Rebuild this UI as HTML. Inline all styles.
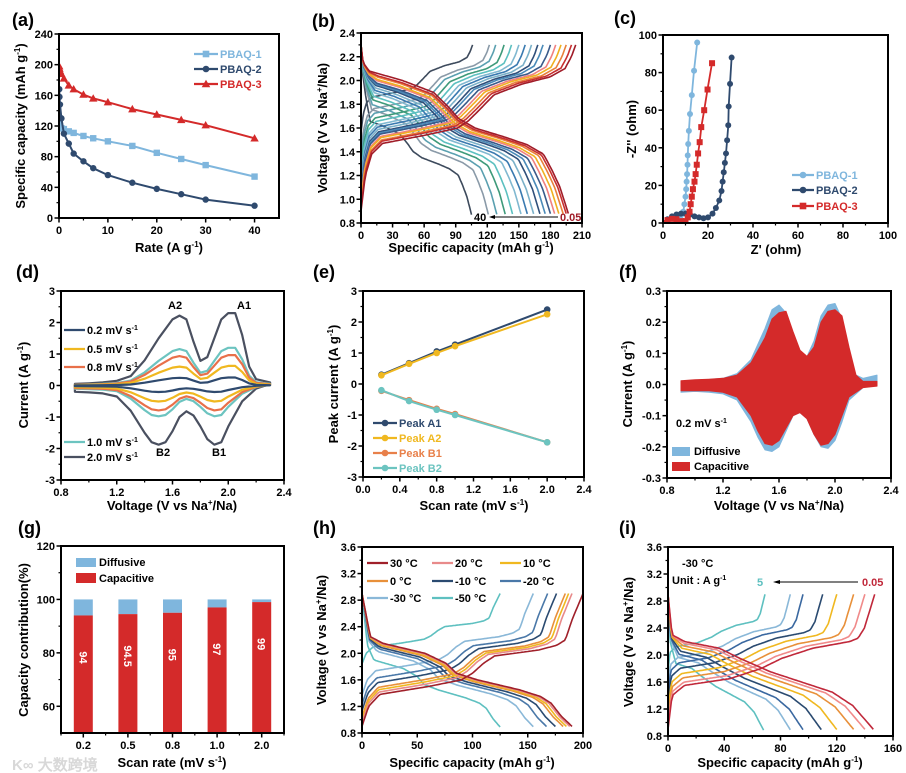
<!DOCTYPE html>
<html><head><meta charset="utf-8">
<style>
html,body{margin:0;padding:0;background:#fff;}
svg{display:block;}
text{font-family:"Liberation Sans",Arial,sans-serif;font-weight:bold;fill:#000;}
.tk{font-size:11px;}
.ti{font-size:13px;}
.pl{font-size:18px;}
.lg{font-size:11px;}
</style></head>
<body>
<svg id="fig" width="906" height="773" viewBox="0 0 906 773" xmlns="http://www.w3.org/2000/svg">
<rect x="0" y="0" width="906" height="773" fill="#fff"/>
<text class="pl" x="12" y="26">(a)</text>
<text class="pl" x="312" y="27">(b)</text>
<text class="pl" x="614" y="24">(c)</text>
<text class="pl" x="16" y="278">(d)</text>
<text class="pl" x="313" y="278">(e)</text>
<text class="pl" x="619" y="278">(f)</text>
<text class="pl" x="18" y="534">(g)</text>
<text class="pl" x="313" y="534">(h)</text>
<text class="pl" x="619" y="534">(i)</text>

<text class="ti" text-anchor="middle" x="169" y="252">Rate (A g<tspan dy="-5" font-size="8">-1</tspan><tspan dy="5">)</tspan></text>
<text class="ti" text-anchor="middle" transform="translate(25,126) rotate(-90)">Specific capacity (mAh g<tspan dy="-5" font-size="8">-1</tspan><tspan dy="5">)</tspan></text>
<text class="ti" text-anchor="middle" x="471" y="252">Specific capacity (mAh g<tspan dy="-5" font-size="8">-1</tspan><tspan dy="5">)</tspan></text>
<text class="ti" text-anchor="middle" transform="translate(327,128) rotate(-90)">Voltage (V vs Na<tspan dy="-5" font-size="8">+</tspan><tspan dy="5">/Na)</tspan></text>
<text class="ti" text-anchor="middle" x="776" y="254">Z' (ohm)</text>
<text class="ti" text-anchor="middle" transform="translate(636,129) rotate(-90)">-Z'' (ohm)</text>
<text class="ti" text-anchor="middle" x="172" y="510">Voltage (V vs Na<tspan dy="-5" font-size="8">+</tspan><tspan dy="5">/Na)</tspan></text>
<text class="ti" text-anchor="middle" transform="translate(28,385) rotate(-90)">Current (A g<tspan dy="-5" font-size="8">-1</tspan><tspan dy="5">)</tspan></text>
<text class="ti" text-anchor="middle" x="474" y="510">Scan rate (mV s<tspan dy="-5" font-size="8">-1</tspan><tspan dy="5">)</tspan></text>
<text class="ti" text-anchor="middle" transform="translate(338,384) rotate(-90)">Peak current (A g<tspan dy="-5" font-size="8">-1</tspan><tspan dy="5">)</tspan></text>
<text class="ti" text-anchor="middle" x="779" y="510">Voltage (V vs Na<tspan dy="-5" font-size="8">+</tspan><tspan dy="5">/Na)</tspan></text>
<text class="ti" text-anchor="middle" transform="translate(632,384) rotate(-90)">Current (A g<tspan dy="-5" font-size="8">-1</tspan><tspan dy="5">)</tspan></text>
<text class="ti" text-anchor="middle" x="172" y="767">Scan rate (mV s<tspan dy="-5" font-size="8">-1</tspan><tspan dy="5">)</tspan></text>
<text class="ti" text-anchor="middle" transform="translate(28,640) rotate(-90)">Capacity contribution(%)</text>
<text class="ti" text-anchor="middle" x="472" y="767">Specific capacity (mAh g<tspan dy="-5" font-size="8">-1</tspan><tspan dy="5">)</tspan></text>
<text class="ti" text-anchor="middle" transform="translate(326,640) rotate(-90)">Voltage (V vs Na<tspan dy="-5" font-size="8">+</tspan><tspan dy="5">/Na)</tspan></text>
<text class="ti" text-anchor="middle" x="780" y="767">Specific capacity (mAh g<tspan dy="-5" font-size="8">-1</tspan><tspan dy="5">)</tspan></text>
<text class="ti" text-anchor="middle" transform="translate(633,642) rotate(-90)">Voltage (V vs Na<tspan dy="-5" font-size="8">+</tspan><tspan dy="5">/Na)</tspan></text>

<g>
<text class="lg" x="474" y="221" fill="#333">40</text>
<line x1="492" y1="217" x2="558" y2="217" stroke="#000" stroke-width="1"/>
<polygon points="489,217 495,215 495,219" fill="#000"/>
<text class="lg" x="560" y="221" style="fill:#a01c28">0.05</text>
</g>
<text class="lg" x="168" y="309">A2</text>
<text class="lg" x="237" y="309">A1</text>
<text class="lg" x="156" y="456">B2</text>
<text class="lg" x="212" y="456">B1</text>
<text class="lg" x="676" y="427">0.2 mV s<tspan dy="-4" font-size="7">-1</tspan></text>
<text class="lg" x="682" y="567">-30 °C</text>
<text class="lg" x="672" y="584">Unit : A g<tspan dy="-4" font-size="7">-1</tspan></text>
<g>
<text class="lg" x="757" y="586" style="fill:#5ec0c0">5</text>
<line x1="777" y1="582" x2="858" y2="582" stroke="#000" stroke-width="1"/>
<polygon points="773,582 780,580 780,584" fill="#000"/>
<text class="lg" x="862" y="586" style="fill:#c0283a">0.05</text>
</g>
<text x="12" y="770" style="font-size:15px;fill:#d8d8d8">K∞ 大数跨境</text>
</svg>

<script>
const NS='http://www.w3.org/2000/svg';
const svg=document.getElementById('fig');
function mk(tag,attrs,parent){const e=document.createElementNS(NS,tag);for(const k in attrs)e.setAttribute(k,attrs[k]);(parent||svg).appendChild(e);return e;}

/* ===== DATA ===== */
const rateA=[0.05,0.1,0.2,0.5,1,2,3,5,7,10,15,20,25,30,40];
const capPBAQ1=[130,125,120,117,116,113,111,107,104,100,94,85,77,69,54];
const capPBAQ2=[168,158,148,130,110,97,84,74,65,56,46,38,31,24,16];
const capPBAQ3=[198,195,192,188,182,173,168,161,156,151,142,135,128,121,104];
const rateB=['40','20','15','10','8','6','5','4','3','2','1.5','1','0.5','0.2','0.1','0.05'];
const disCapB=[105,121,129,137,144,152,158,164,170,175,180,184,188,192,195,197];
const chgCapB=[106,122,128,136,143,150,156,162,168,173,180,185,190,195,200,204];
const polB=[0.4,0.3,0.26,0.22,0.19,0.16,0.14,0.12,0.1,0.09,0.08,0.06,0.05,0.03,0.02,0.0];
const tplChgFB=[0,0.02,0.05,0.1,0.3,0.45,0.5,0.55,0.62,0.75,0.88,0.95,0.98,1];
const tplChgVB=[0.9,1.2,1.38,1.47,1.54,1.6,1.66,1.75,1.88,1.97,2.03,2.1,2.2,2.3];
const tplDisFB=[0,0.01,0.04,0.2,0.35,0.42,0.47,0.55,0.7,0.8,0.88,0.92,0.96,1];
const tplDisVB=[2.3,2.15,2.08,2.0,1.9,1.78,1.68,1.6,1.52,1.46,1.38,1.25,1.1,0.88];
const zre1=[0,2,4,6,8,9,9.5,10,10.3,10.5,10.7,10.9,11,11.2,11.5,12,12.8,13.8,15.2];
const zim1=[0,1.5,2.5,3,4,6,10,14,18,22,26,31,36,42,49,58,68,81,96];
const zre2=[0,2,4,6,8,10,12,14,16,18,20,22,23.5,25,26,26.5,27,27.5,28,28.5,29,29.2,29.8,30.5];
const zim2=[0,2,3.5,4.5,5,5,4.5,3.5,3,2.5,3,5,8,12,17,22,27,32,37,44,52,62,74,88];
const zre3=[0,2,4,6,8,10,11,11.8,12.3,12.8,13.3,14,14.5,15,15.6,16.3,17,18.3,19.8,21.8];
const zim3=[0,1.5,2.2,2,1,1,3,6,10,14,18,22,26,31,37,43,51,60,71,85];
const scanRates=['0.2','0.5','0.8','1.0','2.0'];
const cvScale=[0.11,0.27,0.42,0.52,1.0];
const cvUpV=[0.9,1.0,1.1,1.2,1.3,1.4,1.5,1.6,1.65,1.7,1.75,1.8,1.85,1.9,1.95,2.0,2.05,2.1,2.15,2.2,2.3];
const cvUpI=[0.05,0.07,0.1,0.15,0.3,0.8,1.5,2.1,2.22,2.1,1.4,0.78,0.9,1.5,2.1,2.3,2.3,1.6,0.6,0.2,0.1];
const cvDnV=[2.3,2.2,2.1,2.0,1.95,1.9,1.85,1.8,1.75,1.7,1.65,1.6,1.55,1.5,1.45,1.4,1.3,1.2,1.1,1.0,0.9];
const cvDnI=[0.05,-0.1,-0.5,-1.3,-1.8,-1.88,-1.7,-1.3,-0.95,-0.82,-1.0,-1.45,-1.8,-1.88,-1.8,-1.5,-0.8,-0.35,-0.25,-0.22,-0.2];
const scanE=[0.2,0.5,0.8,1.0,2.0];
const peakA1=[0.3,0.67,1.05,1.27,2.4];
const peakA2=[0.28,0.65,1.0,1.22,2.25];
const peakB1=[-0.22,-0.52,-0.8,-0.97,-1.88];
const peakB2=[-0.2,-0.55,-0.83,-1.0,-1.88];
const fUpV=[0.9,1.0,1.1,1.2,1.3,1.4,1.5,1.55,1.6,1.65,1.7,1.75,1.8,1.85,1.9,1.95,2.0,2.05,2.1,2.15,2.2,2.3];
const totUpI=[0.01,0.013,0.016,0.02,0.035,0.08,0.18,0.24,0.255,0.23,0.15,0.1,0.09,0.14,0.22,0.255,0.26,0.21,0.09,0.03,0.02,0.03];
const capUpI=[0.012,0.015,0.017,0.02,0.03,0.07,0.15,0.21,0.23,0.235,0.17,0.11,0.09,0.12,0.2,0.235,0.24,0.22,0.12,0.03,0.01,0.01];
const fDnV=[2.3,2.2,2.1,2.05,2.0,1.95,1.9,1.85,1.8,1.75,1.7,1.65,1.6,1.55,1.5,1.45,1.4,1.3,1.2,1.1,1.0,0.9];
const totDnI=[0.0,-0.01,-0.05,-0.12,-0.18,-0.205,-0.2,-0.16,-0.11,-0.09,-0.1,-0.15,-0.2,-0.215,-0.21,-0.17,-0.12,-0.05,-0.03,-0.025,-0.022,-0.025];
const capDnI=[-0.005,-0.01,-0.04,-0.1,-0.16,-0.19,-0.195,-0.16,-0.11,-0.09,-0.1,-0.14,-0.18,-0.195,-0.19,-0.15,-0.1,-0.04,-0.025,-0.02,-0.02,-0.02];
const barCats=['0.2','0.5','0.8','1.0','2.0'];
const capacitivePct=[94,94.5,95,97,99];
const barLabels=['94','94.5','95','97','99'];
const tempsH=['30','20','10','0','-10','-20','-30','-50'];
const disCapH=[190,188,185,182,175,167,155,125];
const chgCapH=[200,190,187,184,176,168,155,125];
const polH=[0,0.02,0.04,0.06,0.1,0.14,0.2,0.4];
const tplChgFH=[0,0.03,0.08,0.3,0.45,0.5,0.55,0.6,0.8,0.88,0.92,0.95,1];
const tplChgVH=[0.9,1.2,1.38,1.5,1.6,1.7,1.85,1.96,2.05,2.12,2.2,2.5,2.9];
const tplDisFH=[0,0.04,0.1,0.3,0.4,0.45,0.55,0.75,0.85,0.9,0.95,1];
const tplDisVH=[2.9,2.25,2.15,2.0,1.85,1.7,1.6,1.45,1.35,1.25,1.05,0.9];
const ratesI=['0.05','0.1','0.2','0.3','0.5','1','2','5'];
const disCapI=[146,140,132,120,109,96,87,68];
const chgCapI=[147,140,132,120,110,96,87,69];
const polI=[0,0.03,0.07,0.11,0.16,0.21,0.26,0.36];
const tplChgFI=[0,0.02,0.08,0.3,0.45,0.55,0.7,0.88,0.92,0.95,1];
const tplChgVI=[0.9,1.4,1.55,1.65,1.8,1.95,2.1,2.2,2.25,2.4,2.9];
const tplDisFI=[0,0.02,0.08,0.25,0.35,0.5,0.65,0.8,0.9,1];
const tplDisVI=[2.9,2.3,2.2,2.1,1.95,1.75,1.6,1.45,1.25,0.9];

/* ===== HELPERS ===== */
const colB=['#3d4a5c','#8a9aa8','#5aa0b0','#3e9a7a','#5cc0c0','#80b8d0','#3a7ab0','#7ab0c8','#2f4f7a','#4a8ab8','#3a5a8a','#f08080','#f0b020','#e8803a','#c83030','#a01c28'];
const colH=['#a0202a','#e88a8a','#f0b820','#e8903a','#2a4a70','#4a78a8','#8ab8d8','#5ec0c0'];
const colI=['#c0283a','#f08a8a','#e8903a','#f0b820','#2a4a70','#3a68a0','#8ab8d8','#5ec0c0'];
const colCV=['#2f4a6e','#f0b820','#e8704a','#6cc4c0','#4a5060'];
let clipN=0;
function axes(c){
  const g=mk('g',{});
  
  
  const sx=v=>c.L+(v-c.x0)/(c.x1-c.x0)*(c.R-c.L);
  const sy=v=>c.B-(v-c.y0)/(c.y1-c.y0)*(c.B-c.T);
  (c.xm||[]).forEach(v=>{const x=sx(v);mk('line',{x1:x,x2:x,y1:c.B,y2:c.B+2.5,stroke:'#000','stroke-width':1.2},g);});
  (c.ym||[]).forEach(v=>{const y=sy(v);mk('line',{x1:c.L,x2:c.L-2.5,y1:y,y2:y,stroke:'#000','stroke-width':1.2},g);});
  c.xt.forEach((v,i)=>{const x=sx(v);mk('line',{x1:x,x2:x,y1:c.B,y2:c.B+4.5,stroke:'#000','stroke-width':1.5},g);
    const t=mk('text',{x:x,y:c.B+16,'text-anchor':'middle',class:'tk'},g);t.textContent=c.xl[i];
    
    });
  c.yt.forEach((v,i)=>{const y=sy(v);mk('line',{x1:c.L,x2:c.L-4.5,y1:y,y2:y,stroke:'#000','stroke-width':1.5},g);
    const t=mk('text',{x:c.L-6,y:y+4,'text-anchor':'end',class:'tk'},g);t.textContent=c.yl[i];
    
    });
  const id='clip'+(clipN++);
  const cp=mk('clipPath',{id:id},g);mk('rect',{x:c.L,y:c.T,width:c.R-c.L,height:c.B-c.T},cp);
  const pg=mk('g',{'clip-path':'url(#'+id+')'},g);
  
  
  const fr=mk('rect',{x:c.L,y:c.T,width:c.R-c.L,height:c.B-c.T,fill:'none',stroke:'#000','stroke-width':2});
  
  
  return {sx,sy,g:pg,top:g};
}
function pathD(xs,ys,ax){return xs.map((x,i)=>(i?'L':'M')+ax.sx(x).toFixed(1)+','+ax.sy(ys[i]).toFixed(1)).join('');}
function interp(fs,vs,f){for(let i=1;i<fs.length;i++){if(f<=fs[i]){const t=(f-fs[i-1])/(fs[i]-fs[i-1]);return vs[i-1]+t*(vs[i]-vs[i-1]);}}return vs[vs.length-1];}
function gcd(ax,tf,tv,cap,p,isChg,col,vmax,vmin){
  const xs=[],ys=[];
  for(let k=0;k<=120;k++){const f=k/120;let v=interp(tf,tv,f);
    v=isChg? v+p*(vmax-v)/0.85 : v-p*Math.min(1,f*12)*(v-vmin)/1.2;
    xs.push(cap*f);ys.push(v);}
  return mk('path',{d:pathD(xs,ys,ax),fill:'none',stroke:col,'stroke-width':1.6,'stroke-linejoin':'round'},ax.g);
}
function marker(g,shape,x,y,col,s){
  if(shape==='sq')return mk('rect',{x:x-s,y:y-s,width:2*s,height:2*s,fill:col},g);
  if(shape==='tri')return mk('polygon',{points:`${x},${y-s-1} ${x-s-1},${y+s} ${x+s+1},${y+s}`,fill:col},g);
  return mk('circle',{cx:x,cy:y,r:s,fill:col},g);
}
function legendLine(x1,x2,y,col,shape,label,tcol){
  const g=mk('g',{});
  
  
  mk('line',{x1:x1,x2:x2,y1:y,y2:y,stroke:col,'stroke-width':2.2},g);
  if(shape)marker(g,shape,(x1+x2)/2,y,col,3.3);
  const t=mk('text',{x:x2+2,y:y+4,class:'lg'},g);t.textContent=label;
  if(tcol)t.style.fill=tcol;
  return t;
}

/* ===== (a) ===== */
{const ax=axes({name:'chart-a',L:59,T:34,R:279,B:218,x0:0,x1:45,y0:0,y1:240,
 xt:[0,10,20,30,40],xl:['0','10','20','30','40'],xm:[5,15,25,35],
 yt:[0,40,80,120,160,200,240],yl:['0','40','80','120','160','200','240'],ym:[20,60,100,140,180,220]});
 const ser=[[capPBAQ1,'#7fb6dd','sq'],[capPBAQ2,'#2f4a6e','c'],[capPBAQ3,'#d42a2a','tri']];
 ser.forEach((s,si)=>{const p=mk('path',{d:pathD(rateA,s[0],ax),fill:'none',stroke:s[1],'stroke-width':2},ax.g);
  
  
  rateA.forEach((r,i)=>{const m=marker(ax.g,s[2],ax.sx(r),ax.sy(s[0][i]),s[1],3.2);
   
   });});
 legendLine(194,218,54,'#7fb6dd','sq','PBAQ-1','#7fb6dd');
 legendLine(194,218,69,'#2f4a6e','c','PBAQ-2','#2f4a6e');
 legendLine(194,218,84,'#d42a2a','tri','PBAQ-3','#d42a2a');
}
/* ===== (b) ===== */
{const ax=axes({name:'chart-b',L:361,T:33,R:582,B:223,x0:0,x1:210,y0:0.8,y1:2.4,
 xt:[0,30,60,90,120,150,180,210],xl:['0','30','60','90','120','150','180','210'],xm:[15,45,75,105,135,165,195],
 yt:[0.8,1.0,1.2,1.4,1.6,1.8,2.0,2.2,2.4],yl:['0.8','1.0','1.2','1.4','1.6','1.8','2.0','2.2','2.4'],ym:[0.9,1.1,1.3,1.5,1.7,1.9,2.1,2.3]});
 rateB.forEach((r,i)=>{
  const c=gcd(ax,tplChgFB,tplChgVB,chgCapB[i],polB[i],true,colB[i],2.3,0.85);
  
  
  const d=gcd(ax,tplDisFB,tplDisVB,disCapB[i],polB[i],false,colB[i],2.3,0.85);
  
  });
}
/* ===== (c) ===== */
{const ax=axes({name:'chart-c',L:663,T:35,R:888,B:223,x0:0,x1:100,y0:0,y1:100,
 xt:[0,20,40,60,80,100],xl:['0','20','40','60','80','100'],xm:[10,30,50,70,90],
 yt:[0,20,40,60,80,100],yl:['0','20','40','60','80','100'],ym:[10,30,50,70,90]});
 const ser=[[zre1,zim1,'#7fb6dd','c'],[zre2,zim2,'#2f4a6e','c'],[zre3,zim3,'#d42a2a','sq']];
 ser.forEach((s,si)=>{const p=mk('path',{d:pathD(s[0],s[1],ax),fill:'none',stroke:s[2],'stroke-width':1.8},ax.g);
  
  
  s[0].forEach((x,i)=>{const m=marker(ax.g,s[3],ax.sx(x),ax.sy(s[1][i]),s[2],3);
   
   });});
 legendLine(792,814,175,'#7fb6dd','c','PBAQ-1','#7fb6dd');
 legendLine(792,814,190,'#2f4a6e','c','PBAQ-2','#2f4a6e');
 legendLine(792,814,206,'#d42a2a','sq','PBAQ-3','#d42a2a');
}
/* ===== (d) ===== */
{const ax=axes({name:'chart-d',L:61,T:291,R:284,B:480,x0:0.8,x1:2.4,y0:-3,y1:3,
 xt:[0.8,1.2,1.6,2.0,2.4],xl:['0.8','1.2','1.6','2.0','2.4'],xm:[1.0,1.4,1.8,2.2],
 yt:[-3,-2,-1,0,1,2,3],yl:['-3','-2','-1','0','1','2','3'],ym:[-2.5,-1.5,-0.5,0.5,1.5,2.5]});
 for(let i=scanRates.length-1;i>=0;i--){
  const xs=cvUpV.concat(cvDnV), ys=cvUpI.concat(cvDnI).map(v=>v*cvScale[i]);
  const p=mk('path',{d:pathD(xs,ys,ax)+'Z',fill:'none',stroke:colCV[i],'stroke-width':2.2,'stroke-linejoin':'round'},ax.g);
  
  }
 const lab=[330,349,367,442,457];
 scanRates.forEach((r,i)=>{const t=legendLine(64,85,lab[i],colCV[i],null,r+' mV s',null);
  const ts=mk('tspan',{dy:-4,'font-size':7},t);ts.textContent='-1';});
}
/* ===== (e) ===== */
{const ax=axes({name:'chart-e',L:363,T:291,R:584,B:477,x0:0,x1:2.4,y0:-3,y1:3,
 xt:[0,0.4,0.8,1.2,1.6,2.0,2.4],xl:['0.0','0.4','0.8','1.2','1.6','2.0','2.4'],xm:[0.2,0.6,1.0,1.4,1.8,2.2],
 yt:[-3,-2,-1,0,1,2,3],yl:['-3','-2','-1','0','1','2','3'],ym:[-2.5,-1.5,-0.5,0.5,1.5,2.5]});
 const ser=[[peakA1,'#2f4a6e','Peak A1'],[peakA2,'#f0b820','Peak A2'],[peakB1,'#e8804a','Peak B1'],[peakB2,'#6cc4c0','Peak B2']];
 ser.forEach((s,si)=>{const p=mk('path',{d:pathD(scanE,s[0],ax),fill:'none',stroke:s[1],'stroke-width':2},ax.g);
  
  
  scanE.forEach((x,i)=>{const m=marker(ax.g,'c',ax.sx(x),ax.sy(s[0][i]),s[1],3.3);
   
   });});
 const ly=[423,438,453,468];
 ser.forEach((s,i)=>legendLine(373,397,ly[i],s[1],'c',s[2],s[1]));
}
/* ===== (f) ===== */
{const ax=axes({name:'chart-f',L:667,T:291,R:891,B:478,x0:0.8,x1:2.4,y0:-0.3,y1:0.3,
 xt:[0.8,1.2,1.6,2.0,2.4],xl:['0.8','1.2','1.6','2.0','2.4'],xm:[1.0,1.4,1.8,2.2],
 yt:[-0.3,-0.2,-0.1,0,0.1,0.2,0.3],yl:['-0.3','-0.2','-0.1','0.0','0.1','0.2','0.3'],ym:[-0.25,-0.15,-0.05,0.05,0.15,0.25]});
 const a=mk('path',{d:pathD(fUpV.concat(fDnV),totUpI.concat(totDnI),ax)+'Z',fill:'#7fb6dd',stroke:'#7fb6dd','stroke-width':1,'stroke-linejoin':'round'},ax.g);
 
 
 const b=mk('path',{d:pathD(fUpV.concat(fDnV),capUpI.concat(capDnI),ax)+'Z',fill:'#d42a2a',stroke:'#d42a2a','stroke-width':1,'stroke-linejoin':'round'},ax.g);
 
 
 const l1=mk('rect',{x:672,y:447,width:18,height:9,fill:'#7fb6dd'});
 
 
 const l2=mk('rect',{x:672,y:462,width:18,height:9,fill:'#d42a2a'});
 
 
 const t1=mk('text',{x:694,y:455,class:'lg'});t1.textContent='Diffusive';
 
 
 const t2=mk('text',{x:694,y:470,class:'lg'});t2.textContent='Capacitive';
 
 
}
/* ===== (g) ===== */
{const L=61,R=284,T=546,B=733;
 const ax=axes({name:'chart-g',L:L,T:T,R:R,B:B,x0:0,x1:5,y0:50,y1:120,
 xt:[0.5,1.5,2.5,3.5,4.5],xl:barCats,xm:[0,1,2,3,4,5].map(v=>v+0.0001),
 yt:[60,80,100,120],yl:['60','80','100','120'],ym:[70,90,110]});
 barCats.forEach((c,i)=>{const xc=ax.sx(i+0.5),w=19;
  const d=mk('rect',{x:xc-w/2,y:ax.sy(100),width:w,height:ax.sy(capacitivePct[i])-ax.sy(100),fill:'#7fb6dd'},ax.g);
  
  
  const r=mk('rect',{x:xc-w/2,y:ax.sy(capacitivePct[i]),width:w,height:ax.sy(50)-ax.sy(capacitivePct[i]),fill:'#d42a2a'},ax.g);
  
  
  const ty=ax.sy(capacitivePct[i])+42;
  const t=mk('text',{x:xc,y:ty,'text-anchor':'middle',class:'tk',transform:`rotate(90 ${xc} ${ty})`,dy:4},ax.g);
  t.style.fill='#fff';t.textContent=barLabels[i];
  
  });
 const l1=mk('rect',{x:76,y:558,width:20,height:9,fill:'#7fb6dd'});
 
 
 const l2=mk('rect',{x:76,y:573,width:20,height:10,fill:'#d42a2a'});
 
 
 const t1=mk('text',{x:99,y:566,class:'lg'});t1.textContent='Diffusive';
 
 
 const t2=mk('text',{x:99,y:582,class:'lg'});t2.textContent='Capacitive';
 
 
}
/* ===== (h) ===== */
{const ax=axes({name:'chart-h',L:362,T:547,R:583,B:733,x0:0,x1:200,y0:0.8,y1:3.6,
 xt:[0,50,100,150,200],xl:['0','50','100','150','200'],xm:[25,75,125,175],
 yt:[0.8,1.2,1.6,2.0,2.4,2.8,3.2,3.6],yl:['0.8','1.2','1.6','2.0','2.4','2.8','3.2','3.6'],ym:[1.0,1.4,1.8,2.2,2.6,3.0,3.4]});
 for(let i=tempsH.length-1;i>=0;i--){
  const c=gcd(ax,tplChgFH,tplChgVH,chgCapH[i],polH[i],true,colH[i],2.9,0.85);
  
  
  const d=gcd(ax,tplDisFH,tplDisVH,disCapH[i],polH[i]*0.6,false,colH[i],2.9,0.85);
  
  }
 const lx=[[367,388],[432,453],[500,521]],ly=[563,581,598];
 tempsH.forEach((t,i)=>legendLine(lx[i%3][0],lx[i%3][1],ly[Math.floor(i/3)],colH[i],null,t+' °C',null));
}
/* ===== (i) ===== */
{const ax=axes({name:'chart-i',L:668,T:547,R:893,B:736,x0:0,x1:160,y0:0.8,y1:3.6,
 xt:[0,40,80,120,160],xl:['0','40','80','120','160'],xm:[20,60,100,140],
 yt:[0.8,1.2,1.6,2.0,2.4,2.8,3.2,3.6],yl:['0.8','1.2','1.6','2.0','2.4','2.8','3.2','3.6'],ym:[1.0,1.4,1.8,2.2,2.6,3.0,3.4]});
 for(let i=ratesI.length-1;i>=0;i--){
  const c=gcd(ax,tplChgFI,tplChgVI,chgCapI[i],polI[i],true,colI[i],2.9,0.85);
  
  
  const d=gcd(ax,tplDisFI,tplDisVI,disCapI[i],polI[i]*0.8,false,colI[i],2.9,0.85);
  
  }
}
</script>
</body></html>
